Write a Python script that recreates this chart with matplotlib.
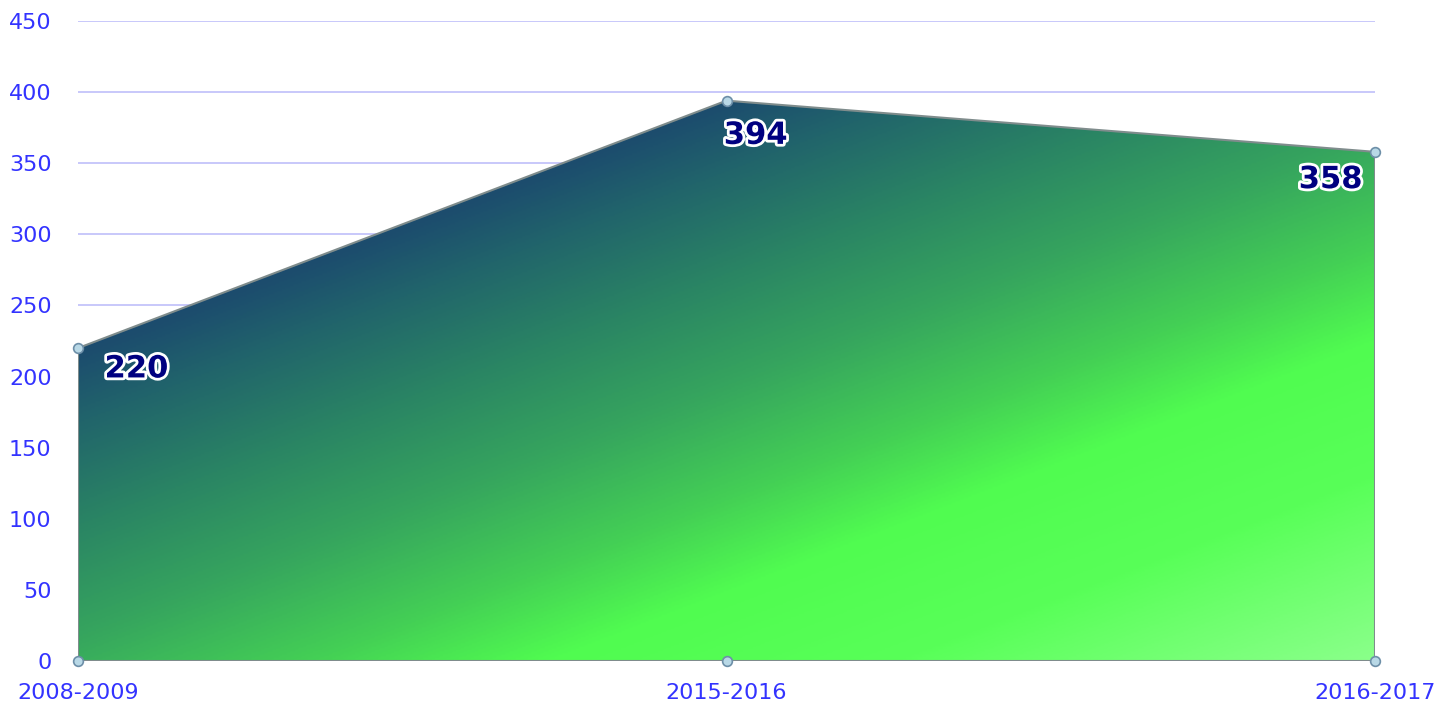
import matplotlib
matplotlib.use("Agg")
import matplotlib.pyplot as plt
import matplotlib.patheffects as pe
from matplotlib.colors import LinearSegmentedColormap
from matplotlib.patches import Polygon
import numpy as np

# data
periods = ["2008-2009", "2015-2016", "2016-2017"]
values = [220, 394, 358]
yticks = [0, 50, 100, 150, 200, 250, 300, 350, 400, 450]

# label offsets in points (dx, dy)
label_offsets = [(42, -15), (21, -25), (-32, -20)]

tick_color = "#3333ff"
grid_color = "#c4c4fa"

fig = plt.figure(figsize=(14.52, 7.08), dpi=100)
ax = fig.add_axes([78 / 1452, 47 / 708, 1297 / 1452, 640 / 708])

x = np.arange(len(periods))
ax.set_xlim(0, len(periods) - 1)
ax.set_ylim(0, 450)

for t in yticks[1:]:
    ax.axhline(t, color=grid_color, lw=1.3, zorder=0)

# gradient fill clipped to the area polygon
cmap = LinearSegmentedColormap.from_list("grad", [
    (0.0, "#1a456f"), (0.29, "#1c4c6e"), (0.35, "#21646b"), (0.44, "#2a8464"),
    (0.54, "#36a55e"), (0.64, "#44d055"), (0.72, "#50fc50"), (0.84, "#58ff58"),
    (1.0, "#8aff8a")])
H, W = 400, 800
u = np.linspace(0, 1, W)[None, :]
v = np.linspace(0, 1, H)[:, None]
tt = 0.44 * u + 0.56 * v
img = ax.imshow(tt, cmap=cmap, vmin=0, vmax=1, extent=[0, len(periods) - 1, 0, 450],
                origin="upper", aspect="auto", zorder=1, interpolation="bilinear")
verts = [(x[0], 0)] + list(zip(x, values)) + [(x[-1], 0)]
poly = Polygon(verts, closed=True, facecolor="none", edgecolor="#7f8c8c", lw=1.5, zorder=2)
ax.add_patch(poly)
img.set_clip_path(poly)

# markers
mk = dict(marker="o", ms=7, mfc="#b8d8e6", mec="#6d8fa8", mew=1.2, ls="none", zorder=4, clip_on=False)
ax.plot(x, values, **mk)
ax.plot(x, [0] * len(x), **mk)

for xi, val, off in zip(x, values, label_offsets):
    ax.annotate(str(val), (xi, val), xytext=off, textcoords="offset points",
                ha="center", va="center", fontsize=22, fontweight="bold", color="#000080",
                family="DejaVu Sans", zorder=5,
                path_effects=[pe.withStroke(linewidth=4, foreground="white")])

for s in ax.spines.values():
    s.set_visible(False)
ax.set_yticks(yticks)
ax.set_xticks(x)
ax.set_xticklabels(periods)
ax.tick_params(axis="y", length=0, pad=19, labelsize=16, labelcolor=tick_color)
ax.tick_params(axis="x", length=0, pad=16, labelsize=16, labelcolor=tick_color)

fig.savefig("out.png", dpi=100)
